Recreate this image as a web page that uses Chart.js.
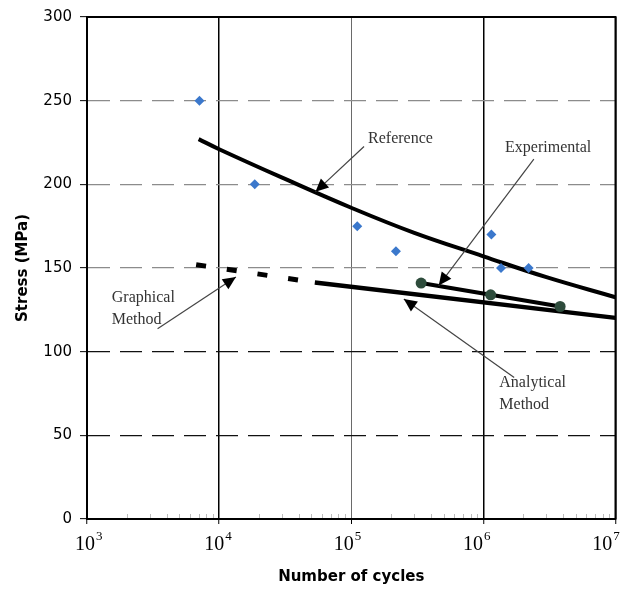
<!DOCTYPE html>
<html>
<head>
<meta charset="utf-8">
<script src="https://cdn.jsdelivr.net/npm/chart.js@4.4.1/dist/chart.umd.min.js"></script>
<style>
  html, body { margin: 0; padding: 0; background: #fff; overflow: hidden; }
  #wrap { position: relative; width: 621px; height: 590px; }
</style>
</head>
<body>
<div id="wrap"><canvas id="snChart"></canvas></div>
<script>
// x axis is number of cycles (log), y axis is stress in MPa
const xTicks = [1e3, 1e4, 1e5, 1e6, 1e7];
const xExponents = ['3', '4', '5', '6', '7'];
const yTicks = [0, 50, 100, 150, 200, 250, 300];

// blue diamonds
const testCycles = [7100, 18600, 111000, 218000, 1150000, 1360000, 2200000];
const testStress = [250, 200, 175, 160, 170, 150, 150];

// reference S-N curve
const refCycles = [7000, 10000, 30000, 100000, 300000, 1000000, 3000000, 10000000];
const refStress = [227, 221, 204, 186, 171, 157, 144.5, 132.5];

// experimental (green circles)
const expCycles = [338000, 1135000, 3810000];
const expStress = [141, 134, 127];

// analytical method
const anaCycles = [53000, 10000000];
const anaStress = [141.3, 120.2];

// graphical method, dashed part
const graCycles = [6700, 53000];
const graStress = [152, 141.3];

// callouts: label anchor, arrow tail, arrow tip (data coords)
const notes = [
    { lines: ['Reference'], at: [134000, 227.4], from: [125000, 222.6], to: [53600, 195.5] },
    { lines: ['Experimental'], at: [1460000, 222], from: [2410000, 215], to: [459000, 139.5] },
    { lines: ['Graphical', 'Method'], at: [1540, 132.1], from: [3420, 113.7], to: [13400, 144.6] },
    { lines: ['Analytical', 'Method'], at: [1320000, 81.5], from: [1710000, 84.5], to: [250000, 131.5] }
];

const zip = (xs, ys) => xs.map((x, i) => ({ x: x, y: ys[i] }));

const decorPlugin = {
    id: 'decor',
    afterDatasetsDraw(chart) {
        const { ctx, scales: { x, y } } = chart;
        ctx.save();
        notes.forEach(n => {
            const x1 = x.getPixelForValue(n.from[0]), y1 = y.getPixelForValue(n.from[1]);
            const x2 = x.getPixelForValue(n.to[0]), y2 = y.getPixelForValue(n.to[1]);
            ctx.strokeStyle = '#444';
            ctx.lineWidth = 1.2;
            ctx.beginPath();
            ctx.moveTo(x1, y1);
            ctx.lineTo(x2, y2);
            ctx.stroke();
            const a = Math.atan2(y2 - y1, x2 - x1);
            const len = 13, hw = 6;
            ctx.fillStyle = '#000';
            ctx.beginPath();
            ctx.moveTo(x2, y2);
            ctx.lineTo(x2 - len * Math.cos(a) + hw * Math.sin(a), y2 - len * Math.sin(a) - hw * Math.cos(a));
            ctx.lineTo(x2 - len * Math.cos(a) - hw * Math.sin(a), y2 - len * Math.sin(a) + hw * Math.cos(a));
            ctx.closePath();
            ctx.fill();

            ctx.fillStyle = '#333';
            ctx.font = '16px "Liberation Serif", serif';
            ctx.textAlign = 'left';
            ctx.textBaseline = 'middle';
            const tx = x.getPixelForValue(n.at[0]), ty = y.getPixelForValue(n.at[1]);
            n.lines.forEach((t, i) => ctx.fillText(t, tx, ty + i * 22));
        });
        ctx.restore();
    },
    afterDraw(chart) {
        const { ctx, chartArea: a, scales: { x } } = chart;
        ctx.save();
        // top and right frame
        ctx.strokeStyle = '#000';
        ctx.lineWidth = 2;
        ctx.beginPath();
        ctx.moveTo(a.left, a.top);
        ctx.lineTo(a.right, a.top);
        ctx.lineTo(a.right, a.bottom);
        ctx.stroke();

        // faint minor ticks along the bottom
        ctx.strokeStyle = '#bdbdbd';
        ctx.lineWidth = 1;
        for (let d = 3; d < 7; d++) {
            for (let m = 2; m <= 9; m++) {
                const px = Math.round(x.getPixelForValue(m * Math.pow(10, d))) + 0.5;
                ctx.beginPath();
                ctx.moveTo(px, a.bottom - 5);
                ctx.lineTo(px, a.bottom - 1);
                ctx.stroke();
            }
        }

        // 10^n tick labels (they drift a little left of the ticks towards the right end)
        ctx.fillStyle = '#000';
        ctx.textBaseline = 'alphabetic';
        xTicks.forEach((v, i) => {
            const px = x.getPixelForValue(v) + 8 - 2.8 * i;
            ctx.font = '20px "Liberation Serif", serif';
            ctx.textAlign = 'right';
            ctx.fillText('10', px, 550);
            ctx.font = '13px "Liberation Serif", serif';
            ctx.textAlign = 'left';
            ctx.fillText(xExponents[i], px + 1, 540);
        });
        ctx.restore();
    }
};

const ctx = document.getElementById('snChart').getContext('2d');
new Chart(ctx, {
    type: 'scatter',
    data: {
        datasets: [
            {
                label: 'Test data',
                data: zip(testCycles, testStress),
                pointStyle: 'rectRot',
                pointRadius: 5,
                backgroundColor: '#3b78cc',
                borderWidth: 0,
                showLine: false
            },
            {
                label: 'Experimental',
                data: zip(expCycles, expStress),
                showLine: true,
                borderColor: '#000',
                borderWidth: 4,
                pointRadius: 5.5,
                pointBackgroundColor: '#2e4c3c',
                pointBorderWidth: 0
            },
            {
                label: 'Reference',
                data: zip(refCycles, refStress),
                showLine: true,
                borderColor: '#000',
                borderWidth: 4,
                tension: 0.4,
                pointRadius: 0
            },
            {
                label: 'Analytical Method',
                data: zip(anaCycles, anaStress),
                showLine: true,
                borderColor: '#000',
                borderWidth: 4.5,
                pointRadius: 0
            },
            {
                label: 'Graphical Method',
                data: zip(graCycles, graStress),
                showLine: true,
                borderColor: '#000',
                borderWidth: 5,
                borderDash: [10, 21],
                pointRadius: 0
            }
        ]
    },
    options: {
        responsive: true,
        maintainAspectRatio: false,
        animation: false,
        layout: { padding: { top: 15, right: 0, left: 0, bottom: 0 } },
        plugins: {
            legend: { display: false },
            tooltip: { enabled: false }
        },
        scales: {
            x: {
                type: 'logarithmic',
                min: 1e3,
                max: 1e7,
                afterBuildTicks: s => { s.ticks = xTicks.map(v => ({ value: v, major: true })); },
                afterFit: s => { s.height = 71; },
                ticks: { display: false },
                grid: {
                    color: c => (c.tick && c.tick.value === 1e5) ? '#6a6a6a' : '#000',
                    lineWidth: c => (c.tick && c.tick.value === 1e5) ? 1 : 1.5,
                    tickLength: 5,
                    tickColor: '#000',
                    tickWidth: 1
                },
                border: { display: true, color: '#000', width: 2 },
                title: {
                    display: true,
                    text: 'Number of cycles',
                    color: '#000',
                    font: { family: 'DejaVu Sans', size: 15, weight: 'bold' },
                    padding: { top: 0, bottom: 4 }
                }
            },
            y: {
                min: 0,
                max: 300,
                afterBuildTicks: s => { s.ticks = yTicks.map(v => ({ value: v })); },
                afterFit: s => { s.width = 87; },
                ticks: {
                    color: '#000',
                    font: { family: 'DejaVu Sans', size: 15 },
                    padding: 8
                },
                grid: {
                    color: c => {
                        const v = c.tick ? c.tick.value : 0;
                        if (v === 0 || v === 300) return 'rgba(0,0,0,0)';
                        return v >= 150 ? '#8c8c8c' : '#111';
                    },
                    lineWidth: 1.3,
                    tickLength: 7,
                    tickColor: '#000',
                    tickWidth: 1
                },
                border: { display: true, color: '#000', width: 2, dash: [22, 10] },
                title: {
                    display: true,
                    text: 'Stress (MPa)',
                    color: '#000',
                    font: { family: 'DejaVu Sans', size: 15, weight: 'bold' },
                    padding: { top: 14, bottom: 0 }
                }
            }
        }
    },
    plugins: [decorPlugin]
});
</script>
</body>
</html>
